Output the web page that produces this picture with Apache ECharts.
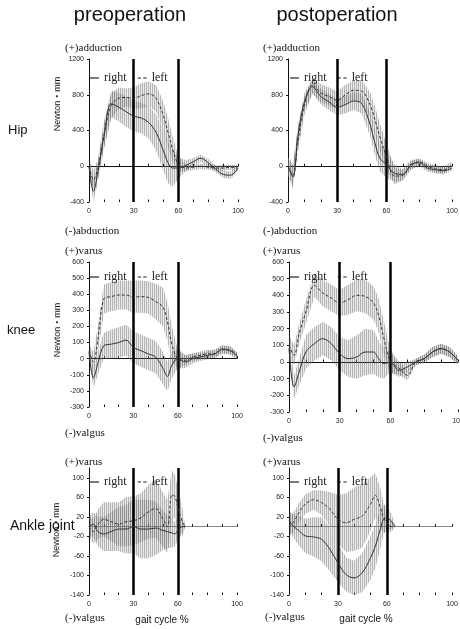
<!DOCTYPE html>
<html>
<head>
<meta charset="utf-8">
<script src="https://cdn.jsdelivr.net/npm/echarts/dist/echarts.min.js"></script>
<style>
  html, body { margin: 0; padding: 0; background: #fff; }
  #main { width: 460px; height: 629px; }
</style>
</head>
<body>
<div id="main"></div>
<script>
// gait cycle sample points (%)
var gaitX  = [0, 3, 6, 10, 15, 20, 25, 30, 35, 40, 45, 50, 53, 56, 60, 65, 70, 75, 80, 85, 90, 95, 100];
var ankleX = [0, 3, 6, 10, 15, 20, 25, 30, 35, 40, 45, 50, 53, 56, 58, 60, 63, 65];
var xTickLabels = [0, 30, 60, 100];

// Hip - preoperation
var hipPreRight   = [0, -280, -60, 330, 700, 660, 610, 560, 540, 490, 380, 170, 40, -20, -20, 10, 50, 90, 40, -30, -90, -100, -20];
var hipPreRightSd = [80, 120, 110, 130, 150, 160, 170, 170, 170, 180, 200, 230, 230, 210, 120, 60, 40, 40, 40, 40, 40, 40, 30];
var hipPreLeft    = [0, -150, -20, 350, 680, 760, 770, 760, 790, 810, 760, 560, 380, 200, 20, -20, -10, 0, -10, -20, -20, -10, -20];
var hipPreLeftSd  = [80, 100, 100, 150, 140, 120, 100, 120, 140, 140, 150, 160, 160, 140, 80, 40, 30, 30, 30, 30, 30, 30, 30];

// Hip - postoperation
var hipPostRight   = [0, -120, 330, 720, 890, 780, 720, 660, 690, 730, 700, 470, 260, 90, 20, -80, -90, 20, 40, -20, -40, -50, -20];
var hipPostRightSd = [100, 130, 120, 100, 80, 90, 90, 90, 100, 100, 110, 130, 140, 150, 150, 100, 60, 50, 40, 40, 40, 40, 30];
var hipPostLeft    = [0, -100, 280, 680, 910, 820, 780, 740, 800, 850, 840, 690, 520, 330, 110, -110, -100, 10, 50, 0, -30, -40, 20];
var hipPostLeftSd  = [100, 120, 120, 100, 90, 100, 100, 100, 110, 110, 120, 140, 150, 150, 140, 90, 60, 50, 40, 40, 40, 40, 30];

// Knee - preoperation
var kneePreRight   = [40, -120, -30, 80, 90, 100, 115, 70, 50, 30, 10, -60, -110, -40, 0, -20, 0, 10, 20, 30, 60, 50, 20];
var kneePreRightSd = [40, 60, 70, 80, 90, 95, 95, 100, 100, 100, 100, 100, 90, 80, 60, 40, 30, 25, 25, 25, 25, 25, 20];
var kneePreLeft    = [50, -20, 120, 370, 385, 395, 395, 383, 385, 380, 355, 320, 230, 90, 0, -10, 10, 20, 30, 30, 55, 55, 20];
var kneePreLeftSd  = [40, 60, 80, 90, 90, 90, 90, 100, 100, 100, 110, 120, 120, 110, 60, 30, 25, 25, 25, 25, 25, 25, 20];

// Knee - postoperation
var kneePostRight   = [80, -150, -60, 60, 110, 140, 110, 50, 20, 30, 60, 60, 20, -10, 0, -50, -30, 0, 20, 60, 80, 60, 10];
var kneePostRightSd = [60, 70, 80, 100, 100, 100, 100, 100, 110, 130, 140, 130, 110, 90, 60, 40, 30, 20, 25, 30, 30, 30, 25];
var kneePostLeft    = [100, 40, 170, 300, 460, 414, 384, 354, 374, 400, 394, 354, 280, 150, 4, -36, -80, 0, 20, 60, 80, 60, 10];
var kneePostLeftSd  = [60, 60, 60, 70, 70, 80, 80, 80, 90, 95, 100, 100, 100, 100, 70, 40, 30, 20, 25, 30, 30, 30, 25];

// Ankle - preoperation
var anklePreRight   = [0, 5, -10, -15, -10, -5, -5, 0, -5, -5, -3, -8, -10, -13, -15, -8, 0, 0];
var anklePreRightSd = [20, 25, 30, 35, 40, 45, 50, 55, 60, 60, 55, 40, 35, 30, 25, 20, 15, 0];
var anklePreLeft    = [0, -10, 5, 15, 10, 5, 10, 12, 18, 30, 37, 15, 0, 65, 62, 40, 10, 0];
var anklePreLeftSd  = [20, 25, 30, 35, 40, 45, 50, 50, 50, 55, 60, 55, 55, 50, 45, 40, 30, 0];

// Ankle - postoperation
var anklePostRight   = [12, 0, -8, -19, -21, -26, -46, -74, -98, -105, -94, -64, -40, -5, 15, 18, 10, 0];
var anklePostRightSd = [20, 25, 30, 35, 40, 45, 45, 40, 35, 35, 40, 45, 45, 40, 30, 25, 15, 0];
var anklePostLeft    = [0, 10, 28, 46, 55, 49, 36, 15, 8, 15, 22, 46, 64, 39, 18, 8, 0, 0];
var anklePostLeftSd  = [20, 20, 20, 20, 20, 25, 35, 50, 60, 65, 65, 55, 45, 40, 30, 20, 10, 0];

var SANS = 'Liberation Sans, Arial, sans-serif';
var SERIF = 'Liberation Serif, DejaVu Serif, serif';

// striped fill, like the SD bars of the original (1px line, 1px faint gap)
var stripe = document.createElement('canvas');
stripe.width = 2;
stripe.height = 4;
var sctx = stripe.getContext('2d');
sctx.fillStyle = 'rgba(110,110,110,0.52)';
sctx.fillRect(0, 0, 1, 4);
sctx.fillStyle = 'rgba(110,110,110,0.14)';
sctx.fillRect(1, 0, 1, 4);

var panels = [
  {grid: {left: 89, top: 59, width: 149, height: 143}, yMin: -400, yMax: 1200, yStep: 400, x: gaitX,
   r: hipPreRight, rSd: hipPreRightSd, l: hipPreLeft, lSd: hipPreLeftSd, zero: '#111', legend: [90, 72]},
  {grid: {left: 288, top: 59, width: 164, height: 143}, yMin: -400, yMax: 1200, yStep: 400, x: gaitX,
   r: hipPostRight, rSd: hipPostRightSd, l: hipPostLeft, lSd: hipPostLeftSd, zero: '#111', legend: [290, 72]},
  {grid: {left: 89, top: 262, width: 148, height: 145}, yMin: -300, yMax: 600, yStep: 100, x: gaitX,
   r: kneePreRight, rSd: kneePreRightSd, l: kneePreLeft, lSd: kneePreLeftSd, zero: '#111', legend: [90, 271]},
  {grid: {left: 289, top: 262, width: 169, height: 150}, yMin: -300, yMax: 600, yStep: 100, x: gaitX,
   r: kneePostRight, rSd: kneePostRightSd, l: kneePostLeft, lSd: kneePostLeftSd, zero: '#111', legend: [290, 271]},
  {grid: {left: 89, top: 468, width: 148, height: 127}, yMin: -140, yMax: 120, yStep: 40, x: ankleX,
   r: anklePreRight, rSd: anklePreRightSd, l: anklePreLeft, lSd: anklePreLeftSd, zero: '#888', legend: [90, 476]},
  {grid: {left: 289, top: 468, width: 163, height: 127}, yMin: -140, yMax: 120, yStep: 40, x: ankleX,
   r: anklePostRight, rSd: anklePostRightSd, l: anklePostLeft, lSd: anklePostLeftSd, zero: '#888', legend: [290, 476]}
];

function pairs(xs, ys) {
  return xs.map(function (x, k) { return [x, ys[k]]; });
}

// mean +- sd band, drawn segment by segment: [x0, lo0, hi0, x1, lo1, hi1]
function band(i, xs, mean, sd) {
  var rows = [];
  for (var k = 0; k < xs.length - 1; k++) {
    rows.push([xs[k], mean[k] - sd[k], mean[k] + sd[k], xs[k + 1], mean[k + 1] - sd[k + 1], mean[k + 1] + sd[k + 1]]);
  }
  return {
    type: 'custom', xAxisIndex: 3 * i, yAxisIndex: i, silent: true, z: 1,
    encode: {x: [0, 3], y: [1, 2, 4, 5]},
    data: rows,
    renderItem: function (params, api) {
      var a = api.coord([api.value(0), api.value(1)]);
      var b = api.coord([api.value(0), api.value(2)]);
      var c = api.coord([api.value(3), api.value(5)]);
      var d = api.coord([api.value(3), api.value(4)]);
      return {
        type: 'polygon', shape: {points: [a, b, c, d]},
        style: {fill: {image: stripe, repeat: 'repeat'}, stroke: null}
      };
    }
  };
}

var grids = [], xAxes = [], yAxes = [], series = [], legends = [];

panels.forEach(function (p, i) {
  grids.push(Object.assign({outerBoundsMode: 'none', containLabel: false}, p.grid));

  // bottom labels only
  xAxes.push({
    gridIndex: i, type: 'value', min: 0, max: 100, interval: 10,
    axisLine: {show: false, onZero: false}, axisTick: {show: false}, splitLine: {show: false},
    axisLabel: {fontSize: 7, color: '#222', margin: 6, hideOverlap: false,
      formatter: function (v) { return xTickLabels.indexOf(v) >= 0 ? String(v) : ''; }}
  });
  // zero line with ticks (two axes so the ticks cross the line)
  xAxes.push({
    gridIndex: i, type: 'value', min: 0, max: 100, interval: 10,
    axisLine: {show: true, onZero: true, lineStyle: {color: p.zero, width: 1}},
    axisTick: {show: true, length: 2.5, lineStyle: {color: '#111'}},
    axisLabel: {show: false}, splitLine: {show: false}
  });
  xAxes.push({
    gridIndex: i, type: 'value', min: 0, max: 100, interval: 10, position: 'bottom',
    axisLine: {show: false, onZero: true},
    axisTick: {show: true, inside: true, length: 2.5, lineStyle: {color: '#111'}},
    axisLabel: {show: false}, splitLine: {show: false}
  });

  var onStep = (p.yMax - p.yMin) % p.yStep === 0;
  yAxes.push({
    gridIndex: i, type: 'value', min: p.yMin, max: p.yMax, interval: p.yStep,
    axisLine: {show: true, onZero: false, lineStyle: {color: '#111'}},
    axisTick: {show: true, length: 2, lineStyle: {color: '#111'}},
    splitLine: {show: false},
    axisLabel: {fontSize: 7, color: '#222', margin: 5, showMaxLabel: onStep ? null : false,
      formatter: function (v) { return String(v); }}
  });

  series.push(band(i, p.x, p.r, p.rSd));
  series.push(band(i, p.x, p.l, p.lSd));

  series.push({
    name: 'right', type: 'line', xAxisIndex: 3 * i, yAxisIndex: i, data: pairs(p.x, p.r),
    symbol: 'none', smooth: 0.35, color: '#333', lineStyle: {color: '#333', width: 1}, z: 5,
    markLine: {
      silent: true, symbol: ['none', 'none'], label: {show: false},
      lineStyle: {color: '#000', width: 2.5, type: 'solid'},
      data: [{xAxis: 30}, {xAxis: 60}]
    }
  });
  series.push({
    name: 'left', type: 'line', xAxisIndex: 3 * i, yAxisIndex: i, data: pairs(p.x, p.l),
    symbol: 'none', smooth: 0.35, color: '#333', lineStyle: {color: '#333', width: 1, type: [3, 2]}, z: 5
  });

  legends.push({
    left: p.legend[0], top: p.legend[1], padding: 0, itemWidth: 9, itemHeight: 1.2, itemGap: 11,
    selectedMode: false,
    data: [
      {name: 'right', icon: 'rect'},
      {name: 'left', icon: 'path://M0,0h3v1h-3z M5,0h3v1h-3z'}
    ],
    itemStyle: {color: '#222'},
    textStyle: {fontFamily: SERIF, fontSize: 12, color: '#222'}
  });
});

function txt(s, x, y, font, align, rot) {
  return {
    type: 'text', x: x, y: y, rotation: rot || 0, silent: true,
    style: {text: s, x: 0, y: 0, font: font, fill: '#111', align: align || 'left', textAlign: align || 'left',
      verticalAlign: 'middle', textVerticalAlign: 'middle'}
  };
}

var serif11 = '11px ' + SERIF;
var graphics = [
  txt('preoperation', 130, 15, '20px ' + SANS, 'center'),
  txt('postoperation', 337, 15, '20px ' + SANS, 'center'),
  txt('Hip', 8, 130, '13px ' + SANS),
  txt('knee', 7, 330, '13px ' + SANS),
  txt('Ankle joint', 10, 526, '14px ' + SANS),
  txt('Newton・mm', 58, 104, '9px ' + SANS + ', Noto Sans CJK JP', 'center', Math.PI / 2),
  txt('Newton・mm', 58, 330, '9px ' + SANS + ', Noto Sans CJK JP', 'center', Math.PI / 2),
  txt('Newton・mm', 57, 530, '9px ' + SANS + ', Noto Sans CJK JP', 'center', Math.PI / 2),
  txt('(+)adduction', 65, 48, serif11),
  txt('(-)abduction', 65, 231, serif11),
  txt('(+)varus', 65, 251, serif11),
  txt('(-)valgus', 65, 433, serif11),
  txt('(+)varus', 65, 462, serif11),
  txt('(-)valgus', 65, 618, serif11),
  txt('(+)adduction', 263, 48, serif11),
  txt('(-)abduction', 263, 231, serif11),
  txt('(+)varus', 263, 251, serif11),
  txt('(-)valgus', 263, 438, serif11),
  txt('(+)varus', 263, 462, serif11),
  txt('(-)valgus', 265, 617, serif11),
  txt('gait cycle %', 162, 620, '10px ' + SANS, 'center'),
  txt('gait cycle %', 366, 619, '10px ' + SANS, 'center')
];

var chart = echarts.init(document.getElementById('main'), null, {renderer: 'canvas'});
chart.setOption({
  animation: false,
  backgroundColor: '#fff',
  textStyle: {fontFamily: SANS},
  grid: grids,
  xAxis: xAxes,
  yAxis: yAxes,
  legend: legends,
  graphic: graphics,
  series: series
});
</script>
</body>
</html>
